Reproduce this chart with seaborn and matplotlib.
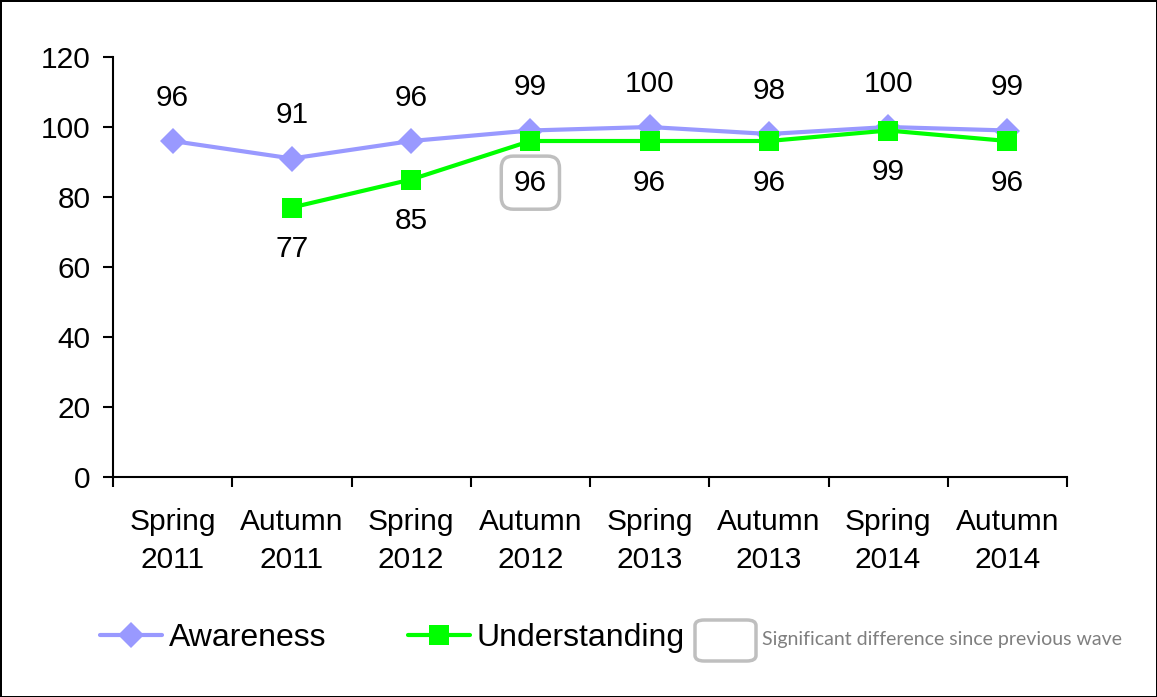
import matplotlib
matplotlib.use("Agg")
import matplotlib.pyplot as plt
from matplotlib.lines import Line2D
from matplotlib.patches import FancyBboxPatch
import numpy as np
import pandas as pd
import seaborn as sns

# Survey waves and tracked measures (%)
waves = ["Spring\n2011", "Autumn\n2011", "Spring\n2012", "Autumn\n2012",
         "Spring\n2013", "Autumn\n2013", "Spring\n2014", "Autumn\n2014"]
awareness = [96, 91, 96, 99, 100, 98, 100, 99]
understanding = [np.nan, 77, 85, 96, 96, 96, 99, 96]
# Waves where understanding changed significantly vs. the previous wave
significant_understanding = [False, False, False, True, False, False, False, False]

AW_COLOR = "#9999FF"
UN_COLOR = "#00FF00"
FONT = ["Liberation Sans", "DejaVu Sans"]
FS = 21.5

sns.set_style("white")
plt.rcParams["font.family"] = FONT
plt.rcParams.update({"text.color": "black", "xtick.color": "black",
                     "ytick.color": "black", "axes.labelcolor": "black"})

pos = np.arange(len(waves))
df = pd.concat([
    pd.DataFrame({"pos": pos, "value": awareness, "series": "Awareness"}),
    pd.DataFrame({"pos": pos, "value": understanding, "series": "Understanding"}),
], ignore_index=True)

fig = plt.figure(figsize=(11.57, 6.97), dpi=100)
fig.patch.set_edgecolor("black")
fig.patch.set_linewidth(2)
ax = fig.add_axes([113 / 1157, 1 - 477 / 697, (1067 - 113) / 1157, (477 - 57) / 697])

sns.lineplot(data=df, x="pos", y="value", hue="series", style="series",
             palette={"Awareness": AW_COLOR, "Understanding": UN_COLOR},
             markers={"Awareness": "D", "Understanding": "s"},
             dashes=False, linewidth=3, legend=False, ax=ax,
             markeredgewidth=0)
for ln, ms in zip(ax.lines, [13, 14]):
    ln.set_markersize(ms)

ax.set_xlim(-0.5, len(waves) - 0.5)
ax.set_ylim(0, 120)
ax.set_yticks(range(0, 121, 20))
ax.set_xlabel("")
ax.set_ylabel("")

# boundary ticks between waves, labels centred on each wave
ax.set_xticks(np.arange(-0.5, len(waves), 1.0))
ax.set_xticklabels([])
ax.set_xticks(pos, minor=True)
ax.set_xticklabels(waves, minor=True, fontsize=FS, linespacing=1.47)
ax.tick_params(axis="x", which="minor", bottom=True, length=0, pad=22)
ax.tick_params(axis="x", which="major", bottom=True, length=7, width=1.5,
               direction="out", color="black")
ax.tick_params(axis="y", left=True, length=7, width=1.5, direction="out",
               color="black", pad=9, labelsize=FS)

for side in ["top", "right"]:
    ax.spines[side].set_visible(False)
for side in ["left", "bottom"]:
    ax.spines[side].set_color("black")
    ax.spines[side].set_linewidth(1.5)

# data labels: awareness above, understanding below
for x, v in zip(pos, awareness):
    ax.annotate(f"{v:g}", (x, v), xytext=(0, 31), textcoords="offset points",
                ha="center", va="center", fontsize=FS)
for x, v, sig in zip(pos, understanding, significant_understanding):
    if np.isnan(v):
        continue
    ax.annotate(f"{v:g}", (x, v), xytext=(0, -30), textcoords="offset points",
                ha="center", va="center", fontsize=FS,
                bbox=dict(boxstyle="round,pad=0.42,rounding_size=0.4",
                          fc="white", ec="#BFBFBF", lw=2.5) if sig else None)

# legend
handles = [
    Line2D([], [], color=AW_COLOR, lw=3, marker="D", markersize=13, markeredgewidth=0),
    Line2D([], [], color=UN_COLOR, lw=3, marker="s", markersize=14, markeredgewidth=0),
]
fig.legend(handles, ["Awareness", "Understanding"], loc="center left",
           bbox_to_anchor=(100 / 1157, 1 - 638 / 697), ncol=2, frameon=False,
           fontsize=23, handlelength=1.95, handletextpad=0.2, columnspacing=2.55,
           borderpad=0, borderaxespad=0)

box = FancyBboxPatch((695 / 1157, 1 - 661 / 697), 61 / 1157, 41 / 697,
                     boxstyle="round,pad=0,rounding_size=0.008",
                     transform=fig.transFigure, fc="white", ec="#BFBFBF", lw=2.5)
fig.add_artist(box)
fig.text(762 / 1157, 1 - 640 / 697, "Significant difference since previous wave",
         fontsize=14, color="#7F7F7F", va="center", ha="left",
         family=["Lato", "DejaVu Sans"])

fig.savefig("out.png", dpi=100)
